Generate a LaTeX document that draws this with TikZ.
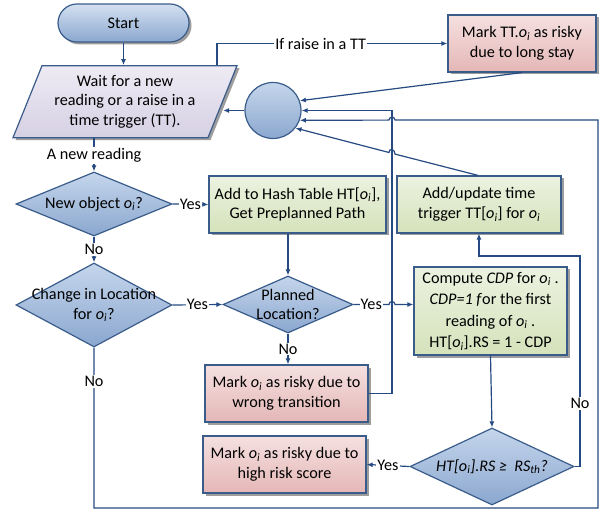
\documentclass[tikz,border=0pt]{standalone}
\usepackage{fontspec}
\setmainfont{Carlito}
\usetikzlibrary{shapes.geometric,shadows,arrows.meta}
\definecolor{flowline}{RGB}{38,74,130}
\definecolor{rim}{RGB}{58,92,138}
\definecolor{blueTop}{RGB}{197,214,236}
\definecolor{blueBot}{RGB}{139,167,207}
\definecolor{greenTop}{RGB}{236,242,224}
\definecolor{greenBot}{RGB}{213,226,187}
\definecolor{pinkTop}{RGB}{245,224,224}
\definecolor{pinkBot}{RGB}{228,183,182}
\definecolor{lilacTop}{RGB}{238,235,244}
\definecolor{lilacBot}{RGB}{214,208,228}
\newcommand{\oi}{\textit{o}\textsubscript{\textit{i}}}

\begin{document}
\begin{tikzpicture}[
	x=1pt, y=-1pt,
	font=\fontsize{16.2}{19.5}\selectfont,
	line width=1.2pt,
	shade box/.style={draw=rim, line width=1.2pt, align=center, inner sep=2pt,
		drop shadow={shadow xshift=2.5pt, shadow yshift=-2.5pt, opacity=.55, fill=black!70}},
	greenbox/.style={shade box, rectangle, top color=greenTop, bottom color=greenBot},
	pinkbox/.style={shade box, rectangle, top color=pinkTop, bottom color=pinkBot},
	decision/.style={diamond, draw=rim, line width=1.2pt, inner sep=0pt,
		top color=blueTop, bottom color=blueBot},
	flow/.style={draw=flowline, -{Latex[length=6pt,width=5pt]}},
	tag/.style={fill=white, inner sep=1pt}]
\useasboundingbox (0,0) rectangle (610,510);
\node[shade box, rectangle, rounded corners=19pt, minimum width=131pt, minimum height=38pt,
	top color=blueTop!75!white, bottom color=blueBot] (start) at (123.5,23) {Start};
\node[shade box, trapezium, trapezium left angle=63, trapezium right angle=117,
	trapezium stretches body, minimum width=224pt, minimum height=72pt,
	top color=lilacTop, bottom color=lilacBot] (wait) at (125,101.7)
	{Wait for a new\\reading or a raise in a\\time trigger (TT).};
\node[circle, draw=rim, line width=1.2pt, minimum size=56pt,
	top color=blueTop, bottom color=blueBot] (hub) at (273,110.5) {};
\node[pinkbox, minimum width=148pt, minimum height=57pt] (longstay) at (522,43.5)
	{Mark TT.\oi{} as risky\\due to long stay};
\node[decision, minimum width=156pt, minimum height=64pt,
	label=center:{New object \oi?}] (newobj) at (94,204) {};
\node[greenbox, minimum width=177pt, minimum height=57pt] (hash) at (297.5,204.5)
	{Add to Hash Table HT[\oi],\\Get Preplanned Path};
\node[greenbox, minimum width=164pt, minimum height=57pt] (trigger) at (479,204.5)
	{Add/update time\\trigger TT[\oi] for \oi};
\node[decision, minimum width=156pt, minimum height=84pt,
	label={[align=center]center:Change in Location\\for \oi?}] (moved) at (94,305) {};
\node[decision, minimum width=130pt, minimum height=57pt,
	label={[align=center]center:Planned\\Location?}] (planned) at (288,304.5) {};
\node[greenbox, minimum width=153pt, minimum height=88pt, font=\fontsize{16.2}{21.5}\selectfont]
	(cdp) at (490.5,311)
	{Compute \textit{CDP} for \oi\ .\\\textit{CDP=1 f}or the first\\reading of \oi\ .\\HT[\oi].RS = 1 - CDP};
\node[pinkbox, minimum width=163pt, minimum height=57pt] (wrong) at (286.5,393.5)
	{Mark \oi{} as risky due to\\wrong transition};
\node[pinkbox, minimum width=163pt, minimum height=57pt] (highrisk) at (284.5,464.5)
	{Mark \oi{} as risky due to\\high risk score};
\node[decision, minimum width=164pt, minimum height=77pt,
	label=center:{\textit{HT[o\textsubscript{i}].RS ≥ \ RS\textsubscript{th}?}}] (score) at (492,466.5) {};
\coordinate (ttup) at (217,43.5);
\coordinate (back) at (392,110.5);
\coordinate (hopA) at (392,120.1);
\coordinate (hopB) at (392,304.5);
\coordinate (slopeR) at (395,154.1);
\coordinate (slopeL) at (389,152.5);
\coordinate (low) at (94,508);
\coordinate (edge) at (598,508);
\coordinate (loop) at (580,256);
\draw[flow] (start.south) -- (start.south |- wait.north);
\draw[flow] (ttup |- wait.north) -- (ttup) -- node[tag,pos=.45]{If raise in a TT} (longstay.west);
\draw[flow] (hub.west) -- (hub.west -| wait.east);
\draw[flow] (longstay.south) -- (hub.20);
\draw[flow] (wrong.east) -| (back) -- (hub.east);
\draw[flow] (moved.south) -- node[tag,pos=.21]{No} (low) -- (edge) -- (edge |- hopA)
	-- ([xshift=3pt]hopA) arc[start angle=0,end angle=180,radius=3pt] -- (hub.-20);
\draw[flow] ([xshift=-1pt]trigger.north) -- (slopeR) .. controls +(0,-5) and +(0,-5) .. (slopeL) -- (hub.-38);
\draw[flow] (newobj.north |- wait.south) -- node[tag,pos=.52]{A new reading} (newobj.north);
\draw[flow] (newobj.east) -- node[tag]{Yes} (hash.west);
\draw[flow] (newobj.south) -- node[tag]{No} (moved.north);
\draw[flow] (planned.north |- hash.south) -- (planned.north);
\draw[flow] (moved.east) -- node[tag]{Yes} (planned.west);
\draw[flow] (planned.east) -- node[tag]{Yes} ([xshift=-3pt]hopB)
	arc[start angle=180,end angle=0,radius=3pt] -- (hopB -| cdp.west);
\draw[flow] (planned.south) -- node[tag]{No} (planned.south |- wrong.north);
\draw[flow] (cdp.south) -- (score.north);
\draw[flow] (score.west) -- node[tag]{Yes} (highrisk.east);
\draw[flow] (score.east) -| node[tag,pos=.65]{No} (loop) -| (trigger.south);
\end{tikzpicture}
\end{document}
